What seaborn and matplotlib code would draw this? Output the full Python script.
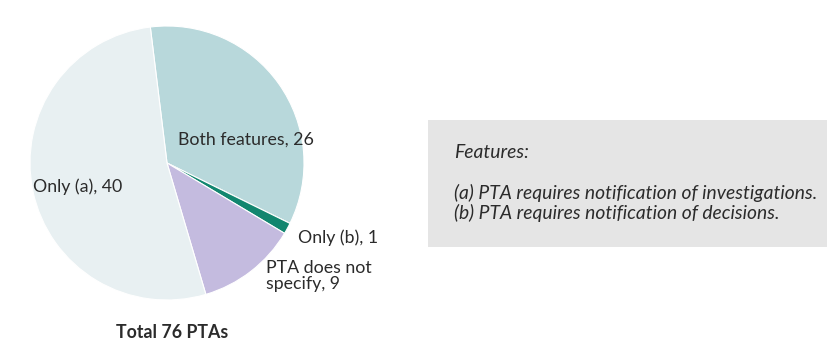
import matplotlib
matplotlib.use("Agg")
import matplotlib.pyplot as plt
import seaborn as sns
from matplotlib.patches import Rectangle

# ==========================================================
# DATA
# ==========================================================

categories = ["Both features", "Only (b)", "PTA does not\nspecify", "Only (a)"]
counts = [26, 1, 9, 40]
colors = ["#b8d8db", "#12866f", "#c4bbdf", "#e8f0f2"]
feature_notes = [
    "(a) PTA requires notification of investigations.",
    "(b) PTA requires notification of decisions.",
]
total_label = f"Total {sum(counts)} PTAs"

sns.set_theme(style="white")
plt.rcParams["font.family"] = ["Lato", "DejaVu Sans"]
TEXT = "#2b2b2b"

W, H = 827, 345
fig = plt.figure(figsize=(W / 100, H / 100), dpi=100)
ax = fig.add_axes([0, 0, 1, 1])

# pie, drawn in pixel coordinates (y measured from bottom)
cx, cy, r = 167, H - 163, 137
ax.pie(counts, colors=colors, startangle=97, counterclock=False,
       center=(cx, cy), radius=r, frame=True,
       wedgeprops=dict(edgecolor="white", linewidth=0.8))
ax.set_xlim(0, W)
ax.set_ylim(0, H)
ax.axis("off")

# slice labels
label_pos = [(178, 140), (298, 238), (266, 276), (33, 187)]
for cat, n, (x, y) in zip(categories, counts, label_pos):
    ax.text(x, H - y, f"{cat}, {n}", ha="left", va="center", fontsize=12.8,
            color=TEXT, linespacing=0.95)

ax.text(172, H - 332, total_label, ha="center", va="center", fontsize=12.8,
        fontweight="bold", color=TEXT)

# features box
ax.add_patch(Rectangle((428, H - 247), W - 428, 127, facecolor="#e5e5e5",
                       edgecolor="none"))
ax.text(454, H - 152, "Features:", ha="left", va="center", fontsize=13.9,
        style="italic", color=TEXT)
for i, note in enumerate(feature_notes):
    ax.text(454, H - 193 - 20 * i, note, ha="left", va="center",
            fontsize=13.9, style="italic", color=TEXT)

fig.savefig("out.png", dpi=100, facecolor="white")
